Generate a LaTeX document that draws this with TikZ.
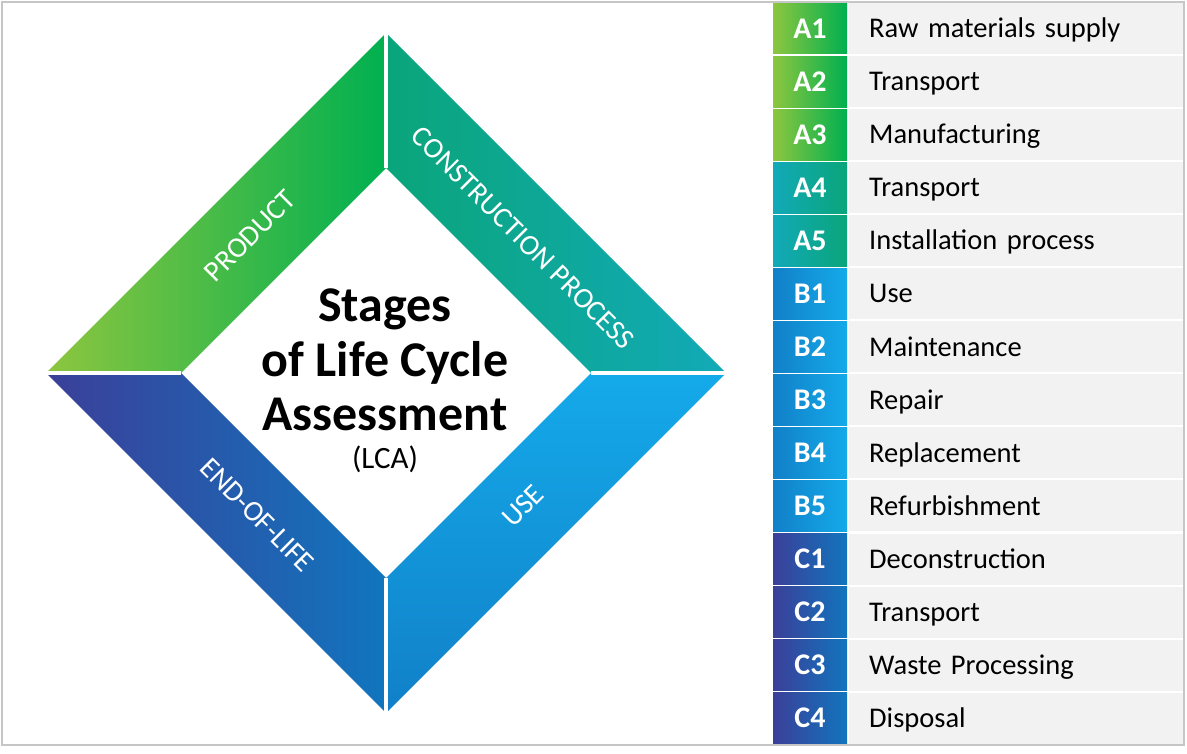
\documentclass[tikz,border=0pt]{standalone}
\usepackage{fontspec}
\setmainfont{Carlito}
\usetikzlibrary{positioning}

\definecolor{prodL}{HTML}{8DC63F}
\definecolor{prodR}{HTML}{00B050}
\definecolor{consL}{HTML}{0AA57A}
\definecolor{consR}{HTML}{12AAB8}
\definecolor{useT}{HTML}{14AAEA}
\definecolor{useB}{HTML}{1180C8}
\definecolor{eolL}{HTML}{3B3F99}
\definecolor{eolR}{HTML}{1175BE}
\definecolor{cellgray}{HTML}{F2F2F2}
\definecolor{framegray}{HTML}{C6C6C6}

\tikzset{
  gap/.style={white, line width=3.5pt},
  stagelabel/.style={text=white, font=\fontsize{29}{32}\selectfont, inner sep=0pt},
  titletext/.style={font=\fontsize{50}{54}\bfseries\selectfont, inner sep=0pt},
  lcatext/.style={font=\fontsize{31}{34}\selectfont, inner sep=0pt},
  codecell/.style={minimum width=74pt, minimum height=51pt, inner sep=0pt,
    text=white, font=\fontsize{30}{32}\bfseries\selectfont,
    text height=19.3pt, text depth=0pt},
  namecell/.style={fill=cellgray, minimum height=51pt, inner xsep=20pt, inner ysep=0pt,
    text width=294pt, align=left, font=\fontsize{28.5}{31}\selectfont,
    text height=18.4pt, text depth=0pt}
}

\begin{document}
\begin{tikzpicture}[x=1pt, y=-1pt]

\useasboundingbox (0,0) rectangle (1187,754);
\fill[white] (0,0) rectangle (1187,754);

% Diamond corners
\coordinate (oT) at (386,33);
\coordinate (oR) at (726,373);
\coordinate (oB) at (386,713);
\coordinate (oL) at (46,373);
\coordinate (iT) at (386,168);
\coordinate (iR) at (591,373);
\coordinate (iB) at (386,578);
\coordinate (iL) at (181,373);

% Stage bands
\shade[left color=prodL, right color=prodR] (oL) -- (oT) -- (iT) -- (iL) -- cycle;
\shade[left color=consL, right color=consR] (oT) -- (oR) -- (iR) -- (iT) -- cycle;
\shade[top color=useT, bottom color=useB] (oR) -- (oB) -- (iB) -- (iR) -- cycle;
\shade[left color=eolL, right color=eolR] (oB) -- (oL) -- (iL) -- (iB) -- cycle;

% White gaps between bands
\draw[gap] (oT) -- (iT);
\draw[gap] (oR) -- (iR);
\draw[gap] (oB) -- (iB);
\draw[gap] (oL) -- (iL);

% Band labels
\node[stagelabel, rotate=45] (product) at (250,236) {PRODUCT};
\node[stagelabel, rotate=-45] (construction) at (523,238) {CONSTRUCTION PROCESS};
\node[stagelabel, rotate=45] (use) at (523,506) {USE};
\node[stagelabel, rotate=-45] (eol) at (257,515) {END-OF-LIFE};

% Centre title
\node[titletext, anchor=base] (stages) at (385,322) {Stages};
\node[titletext, anchor=base] (lifecycle) at (385,376) {of Life Cycle};
\node[titletext, anchor=base] (assessment) at (385,430) {Assessment};
\node[lcatext, anchor=base] (lca) at (385,468) {(LCA)};

% Module table
\foreach \stagecode/\stagename/\cl/\cr [count=\i from 0] in {
    A1/Raw materials supply/prodL/prodR,
    A2/Transport/prodL/prodR,
    A3/Manufacturing/prodL/prodR,
    A4/Transport/consR/consL,
    A5/Installation process/consR/consL,
    B1/Use/useB/useT,
    B2/Maintenance/useB/useT,
    B3/Repair/useB/useT,
    B4/Replacement/useB/useT,
    B5/Refurbishment/useB/useT,
    C1/Deconstruction/eolL/eolR,
    C2/Transport/eolL/eolR,
    C3/Waste Processing/eolL/eolR,
    C4/Disposal/eolL/eolR}
{
    \pgfmathsetmacro\ymid{28.5+53.05*\i}
    \node[codecell, left color=\cl, right color=\cr] (code\i) at (810,\ymid) {\stagecode};
    \node[namecell, anchor=west] (name\i) at (849,\ymid) {\stagename};
}

% Outer frame
\draw[framegray, line width=1.8pt] (2,2) rectangle (1184,745);

\end{tikzpicture}
\end{document}
